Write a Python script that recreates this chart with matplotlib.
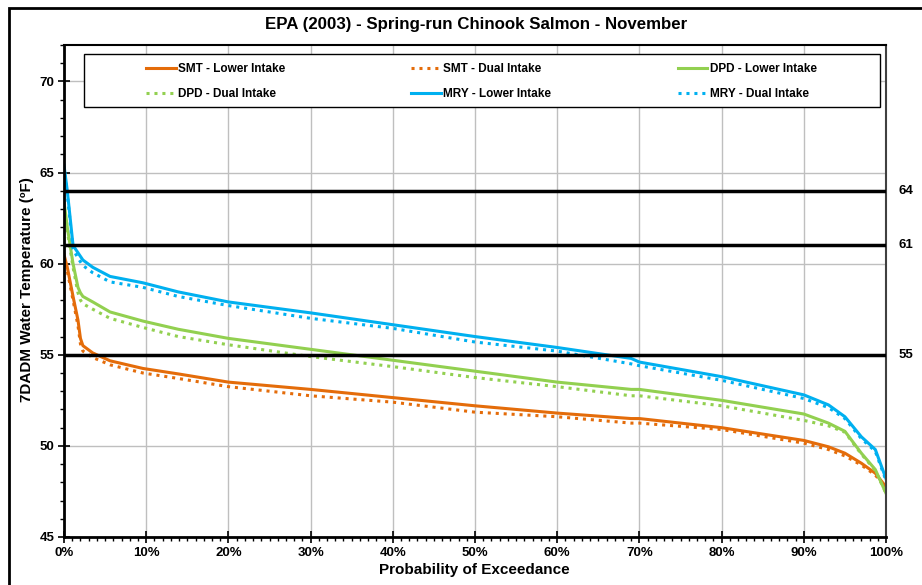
import numpy as np
import matplotlib
matplotlib.use("Agg")
import matplotlib.pyplot as plt
from matplotlib.ticker import MultipleLocator, FuncFormatter
from matplotlib.patches import Rectangle

plt.rcParams['font.family'] = ['Liberation Sans', 'DejaVu Sans']
plt.rcParams['font.weight'] = 'bold'

TITRE = "EPA (2003) - Spring-run Chinook Salmon - November"

# probabilite de depassement (%)
P = [0, 0.4, 1.1, 1.7, 2.0, 2.3, 3.5, 5.6, 9.6, 13.9, 20, 30, 40, 50, 60, 69,
     70, 80, 90, 93, 95, 97, 98.7, 100]

# temperatures (F)
smt_lower = [60.5, 59.8, 58.2, 56.9, 55.9, 55.5, 55.1, 54.67, 54.25, 53.95, 53.5, 53.1,
             52.65, 52.2, 51.8, 51.5, 51.5, 51.0, 50.3, 49.95, 49.6, 49.05, 48.5, 47.75]
smt_dual = [60.4, 59.6, 58.0, 56.6, 55.6, 55.2, 54.85, 54.45, 54.0, 53.7, 53.25, 52.75,
            52.4, 51.85, 51.6, 51.25, 51.25, 50.9, 50.15, 49.8, 49.45, 48.95, 48.4, 47.7]
dpd_lower = [63.4, 62.0, 60.0, 58.7, 58.4, 58.2, 57.9, 57.35, 56.85, 56.4, 55.9, 55.3,
             54.7, 54.1, 53.5, 53.1, 53.1, 52.5, 51.75, 51.25, 50.8, 49.6, 48.7, 47.4]
dpd_dual = [63.2, 61.8, 59.8, 58.4, 58.0, 57.8, 57.5, 57.0, 56.5, 56.0, 55.55, 54.9,
            54.35, 53.75, 53.25, 52.75, 52.75, 52.2, 51.4, 51.1, 50.75, 49.55, 48.65, 47.4]
mry_lower = [65.4, 64.0, 61.0, 60.6, 60.4, 60.2, 59.8, 59.3, 58.95, 58.45, 57.9, 57.3,
             56.65, 56.0, 55.4, 54.8, 54.6, 53.8, 52.8, 52.25, 51.6, 50.5, 49.8, 48.2]
mry_dual = [65.3, 63.8, 60.8, 60.3, 60.1, 59.9, 59.5, 59.0, 58.7, 58.2, 57.7, 57.0,
            56.45, 55.7, 55.2, 54.5, 54.4, 53.6, 52.6, 52.1, 51.5, 50.4, 49.7, 48.1]

SEUILS = [64, 61, 55]

ORANGE = "#E46C0A"
VERT = "#92D050"
BLEU = "#00B0F0"

fig = plt.figure(figsize=(9.22, 5.85), dpi=100)
fig.patches.append(Rectangle((9 / 922, -0.01), 1.0, 1 - 8 / 585 + 0.01,
                             transform=fig.transFigure, fill=False,
                             edgecolor='black', linewidth=2))
ax = fig.add_axes([64 / 922, 1 - 537 / 585, 822 / 922, 492 / 585])

x = np.array(P) / 100.
lw = 2.2
pointille = (0, (1, 1.6))
h1, = ax.plot(x, smt_lower, color=ORANGE, lw=lw, label="SMT - Lower Intake")
h2, = ax.plot(x, smt_dual, color=ORANGE, lw=lw, ls=pointille, label="SMT - Dual Intake")
h3, = ax.plot(x, dpd_lower, color=VERT, lw=lw, label="DPD - Lower Intake")
h4, = ax.plot(x, dpd_dual, color=VERT, lw=lw, ls=pointille, label="DPD - Dual Intake")
h5, = ax.plot(x, mry_lower, color=BLEU, lw=lw, label="MRY - Lower Intake")
h6, = ax.plot(x, mry_dual, color=BLEU, lw=lw, ls=pointille, label="MRY - Dual Intake")

for s in SEUILS:
    ax.axhline(s, color='black', lw=2.5, zorder=3)
    ax.text(1.015, s, str(s), transform=ax.get_yaxis_transform(),
            va='center', ha='left', fontsize=9.5, fontweight='bold')

ax.set_xlim(0, 1)
ax.set_ylim(45, 72)
ax.xaxis.set_major_locator(MultipleLocator(0.1))
ax.xaxis.set_minor_locator(MultipleLocator(0.01))
ax.yaxis.set_major_locator(MultipleLocator(5))
ax.yaxis.set_minor_locator(MultipleLocator(1))
ax.xaxis.set_major_formatter(FuncFormatter(lambda v, p: "{:.0f}%".format(v * 100)))
ax.grid(True, which='major', color='#BFBFBF', lw=1)
ax.set_axisbelow(True)
ax.tick_params(which='major', direction='inout', length=8, width=1.2, labelsize=9.5, pad=3)
ax.tick_params(which='minor', direction='out', length=3, width=1)
for lab in ax.get_xticklabels() + ax.get_yticklabels():
    lab.set_fontweight('bold')

for side in ['left', 'bottom']:
    ax.spines[side].set_linewidth(2)
    ax.spines[side].set_color('black')
ax.spines['top'].set_linewidth(1.5)
ax.spines['right'].set_linewidth(1.5)
ax.spines['right'].set_color('#404040')

fig.text(474 / 922, 1 - 570 / 585, "Probability of Exceedance", ha='center', va='center',
         fontsize=11, fontweight='bold')
fig.text(27 / 922, 1 - 290 / 585, "7DADM Water Temperature (ºF)", ha='center', va='center',
         rotation=90, fontsize=11, fontweight='bold')
fig.text(476 / 922, 1 - 24 / 585, TITRE, ha='center', va='center', fontsize=12.2,
         fontweight='bold')

# cadre de la legende (dessine a part)
ax.add_patch(Rectangle(((84 - 64) / 822, (537 - 107) / 492), 796 / 822, 53 / 492,
                       transform=ax.transAxes, facecolor='white', edgecolor='black',
                       lw=1, zorder=4.5))

# ordre ligne par ligne comme dans l'original
handles = [h1, h4, h2, h5, h3, h6]
leg = ax.legend(handles=handles, labels=[h.get_label() for h in handles], ncol=3,
                loc='upper left',
                bbox_to_anchor=((146 - 64) / 822, (537 - 63) / 492),
                borderaxespad=0, borderpad=0, frameon=False, fontsize=8.5,
                handlelength=2.5, handletextpad=0.2, labelspacing=1.1,
                columnspacing=10.7)
for t in leg.get_texts():
    t.set_fontweight('bold')

fig.savefig("out.png", dpi=100)
